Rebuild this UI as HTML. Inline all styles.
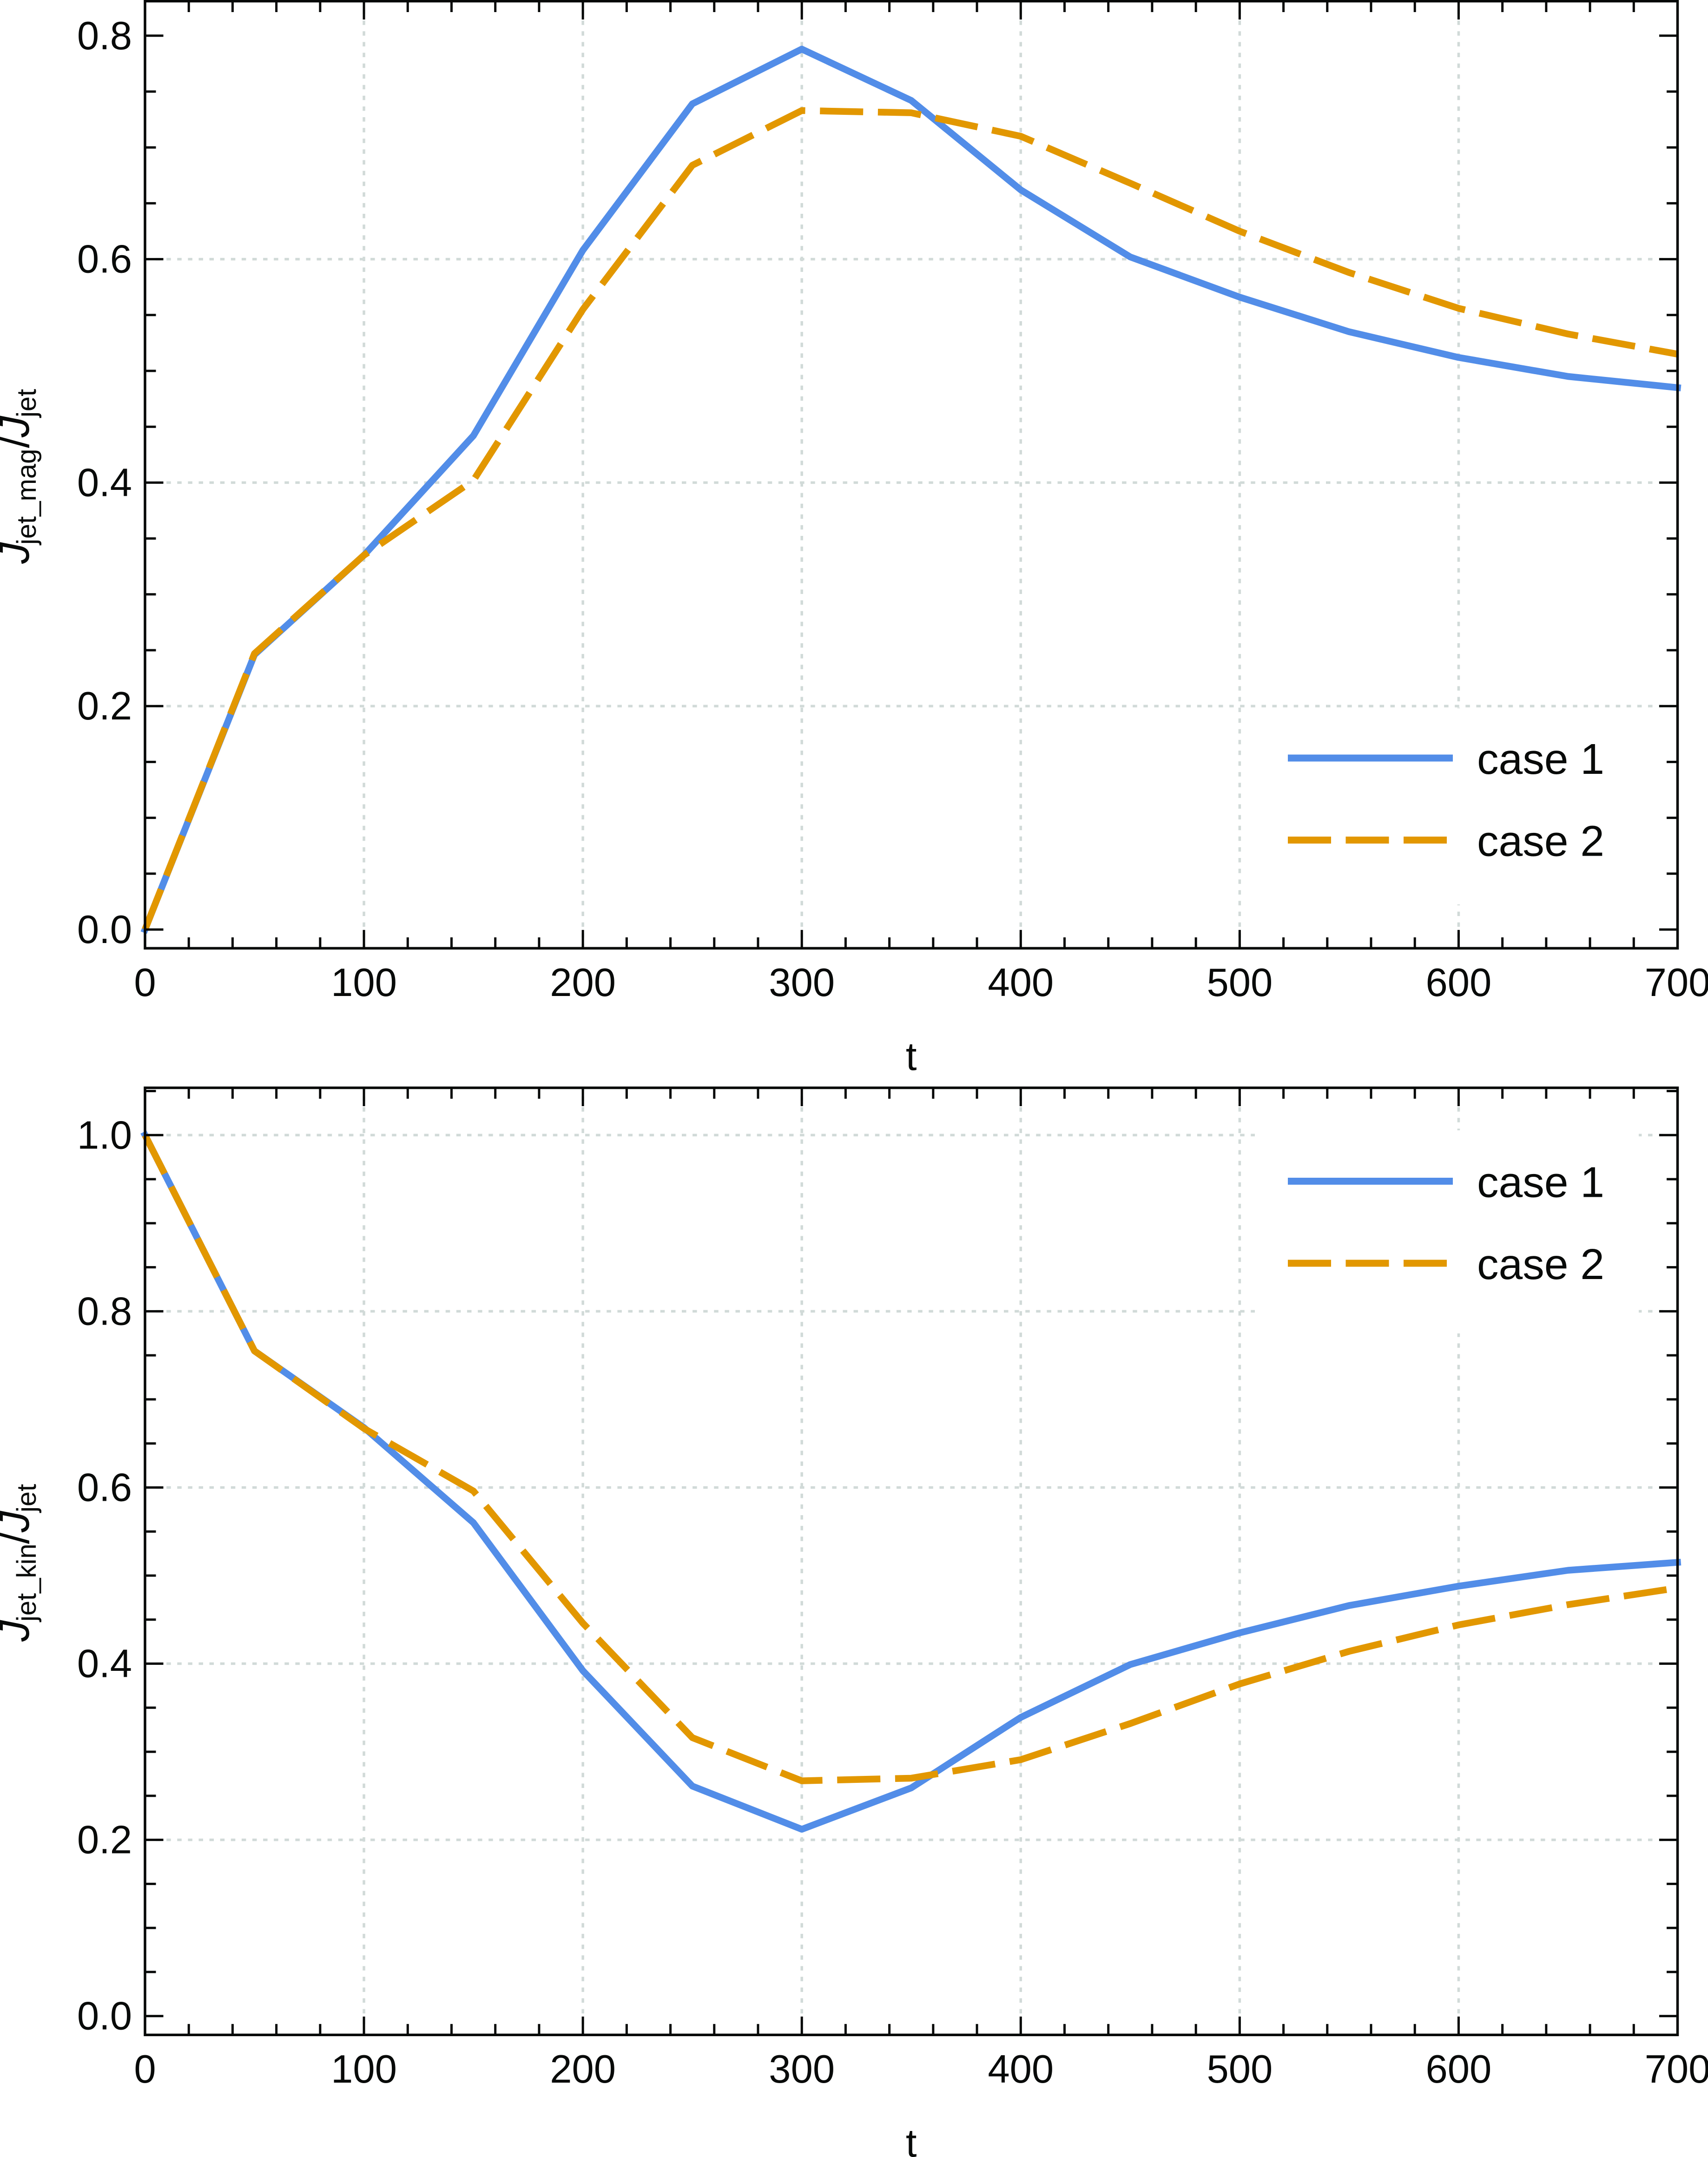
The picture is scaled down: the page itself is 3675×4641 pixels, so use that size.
<!DOCTYPE html>
<html lang="en">
<head>
<meta charset="utf-8">
<title>Jet angular momentum fractions versus time</title>
<style>
html,body{margin:0;padding:0;background:#fff;}
body{width:3675px;height:4641px;overflow:hidden;}
svg{display:block;}
text{font-family:"Liberation Sans",Arial,sans-serif;fill:#080a09;}
</style>
</head>
<body>
<svg id="figure" xmlns="http://www.w3.org/2000/svg" width="3675" height="4641" viewBox="0 0 3675 4641"></svg>
<script>
const times = [0, 50, 100, 150, 200, 250, 300, 350, 400, 450, 500, 550, 600, 650, 700];
const magCase1 = [0, 0.246, 0.335, 0.442, 0.608, 0.739, 0.788, 0.742, 0.662, 0.602, 0.566, 0.535, 0.512, 0.495, 0.485];
const magCase2 = [0, 0.247, 0.335, 0.402, 0.555, 0.684, 0.733, 0.731, 0.71, 0.668, 0.625, 0.588, 0.556, 0.533, 0.515];
const kinCase1 = [1, 0.755, 0.668, 0.56, 0.392, 0.261, 0.212, 0.259, 0.339, 0.399, 0.435, 0.466, 0.488, 0.506, 0.515];
const kinCase2 = [1, 0.755, 0.667, 0.596, 0.446, 0.316, 0.267, 0.27, 0.291, 0.332, 0.377, 0.414, 0.444, 0.467, 0.486];
const xTickLabels = ['0', '100', '200', '300', '400', '500', '600', '700'];
const magTickLabels = ['0.0', '0.2', '0.4', '0.6', '0.8'];
const kinTickLabels = ['0.0', '0.2', '0.4', '0.6', '0.8', '1.0'];
const magGridValues = [0.2, 0.4, 0.6];
const kinGridValues = [0.2, 0.4, 0.6, 0.8, 1.0];
const seriesNames = ['case 1', 'case 2'];

const BLUE = '#528de8';
const ORANGE = '#e29700';
const BLACK = '#060807';
const GRID = '#d1dad8';
const SVGNS = 'http://www.w3.org/2000/svg';
const root = document.getElementById('figure');

const LEFT = 312, RIGHT = 3609.5;
const xPos = t => LEFT + t * (RIGHT - LEFT) / 700;

function make(parent, tag, attrs, content) {
  const el = document.createElementNS(SVGNS, tag);
  for (const k in attrs) el.setAttribute(k, attrs[k]);
  if (content !== undefined) el.textContent = content;
  parent.appendChild(el);
  return el;
}

function drawPanel(cfg) {
  const yPos = cfg.yPos;
  const panel = make(root, 'g', {});
  
  

  // grid
  const grid = make(panel, 'g', {fill: 'none', stroke: GRID, 'stroke-width': 5.5, 'stroke-dasharray': '9.5 13.6'});
  
  
  xTickLabels.slice(1, -1).forEach(label => {
    const x = xPos(parseFloat(label));
    const v = make(grid, 'line', {x1: x, x2: x, y1: cfg.bottom, y2: cfg.top});
    
    
  });
  cfg.gridValues.forEach(value => {
    const y = yPos(value);
    const h = make(grid, 'line', {x1: LEFT, x2: RIGHT, y1: y, y2: y});
    
    
  });

  // series
  const pathFor = vals => vals.map((v, i) => (i ? 'L' : 'M') + xPos(times[i]).toFixed(2) + ' ' + yPos(v).toFixed(2)).join(' ');
  const s1 = make(panel, 'path', {d: pathFor(cfg.series1), fill: 'none', stroke: BLUE, 'stroke-width': 14.5, 'stroke-linejoin': 'round', 'stroke-linecap': 'square'});
  
  
  const s2 = make(panel, 'path', {d: pathFor(cfg.series2), fill: 'none', stroke: ORANGE, 'stroke-width': 14.5, 'stroke-linejoin': 'round', 'stroke-dasharray': '93 31.7'});
  
  

  // legend
  const legend = make(panel, 'g', {});
  
  
  const box = make(legend, 'rect', {x: 2700, y: cfg.legendBoxTop, width: 826, height: cfg.legendBoxBottom - cfg.legendBoxTop, fill: '#fff'});
  
  
  const l1 = make(legend, 'line', {x1: 2771, x2: 3126, y1: cfg.legendY1, y2: cfg.legendY1, stroke: BLUE, 'stroke-width': 15});
  
  
  const t1 = make(legend, 'text', {x: 3178, y: cfg.legendY1 + 34, 'font-size': 93}, seriesNames[0]);
  
  
  const l2 = make(legend, 'line', {x1: 2771, x2: 3113, y1: cfg.legendY2, y2: cfg.legendY2, stroke: ORANGE, 'stroke-width': 15, 'stroke-dasharray': '93 31.5'});
  
  
  const t2 = make(legend, 'text', {x: 3178, y: cfg.legendY2 + 34, 'font-size': 93}, seriesNames[1]);
  
  

  // ticks
  const ticks = make(panel, 'g', {stroke: BLACK, 'stroke-width': 5, fill: 'none'});
  
  
  const xMax = parseFloat(xTickLabels[xTickLabels.length - 1]);
  for (let i = 0; i <= xMax / 20; i++) {
    const t = i * 20;
    const x = xPos(t);
    const len = t % 100 === 0 ? 39.5 : 23.5;
    const b = make(ticks, 'line', {x1: x, x2: x, y1: cfg.bottom, y2: cfg.bottom - len});
    
    
    const tp = make(ticks, 'line', {x1: x, x2: x, y1: cfg.top, y2: cfg.top + len});
    
    
  }
  for (let i = 0; i <= cfg.yMinorCount; i++) {
    const v = i * 0.05;
    const y = yPos(v);
    const len = i % 4 === 0 ? 39.5 : 23.5;
    const a = make(ticks, 'line', {x1: LEFT, x2: LEFT + len, y1: y, y2: y});
    
    
    const c = make(ticks, 'line', {x1: RIGHT, x2: RIGHT - len, y1: y, y2: y});
    
    
  }

  // frame
  const frame = make(panel, 'rect', {x: LEFT, y: cfg.top, width: RIGHT - LEFT, height: cfg.bottom - cfg.top, fill: 'none', stroke: BLACK, 'stroke-width': 5.5});
  
  

  // tick labels
  xTickLabels.forEach(label => {
    const tl = make(panel, 'text', {x: xPos(parseFloat(label)), y: cfg.bottom + 102.5, 'font-size': 85, 'text-anchor': 'middle'}, label);
    
    
  });
  cfg.tickLabels.forEach(label => {
    const tl = make(panel, 'text', {x: 284, y: yPos(parseFloat(label)) + 29, 'font-size': 85, 'text-anchor': 'end'}, label);
    
    
  });

  // x title
  const xt = make(panel, 'text', {x: 1960.7, y: cfg.bottom + 262, 'font-size': 85, 'text-anchor': 'middle'}, 't');
  
  

  // y title pieces
  const yt = make(panel, 'g', {});
  
  
  const piece = (x, y, size, italic, str) => make(yt, 'text', {transform: 'translate(' + x + ' ' + y + ') rotate(-90)', 'font-size': size, 'font-style': italic ? 'italic' : 'normal'}, str);
  piece(62, cfg.ylab[0], 92, true, 'J');
  piece(77, cfg.ylab[1], 58, false, cfg.subscript);
  piece(62, cfg.ylab[2], 92, false, '/');
  piece(62, cfg.ylab[3], 92, true, 'J');
  piece(77, cfg.ylab[4], 58, false, 'jet');
}

drawPanel({
  name: 'magnetic-fraction',
  top: 2.5, bottom: 2040.3,
  yPos: v => 2000 - 2404 * v,
  gridValues: magGridValues,
  tickLabels: magTickLabels,
  series1: magCase1, series2: magCase2,
  yMinorCount: 16,
  legendBoxTop: 1524, legendBoxBottom: 1946,
  legendY1: 1631, legendY2: 1807.5,
  subscript: 'jet_mag',
  ylab: [1213, 1172, 964, 941, 898]
});

drawPanel({
  name: 'kinetic-fraction',
  top: 2340.5, bottom: 4378.3,
  yPos: v => 4337.7 - 1895.4 * v,
  gridValues: kinGridValues,
  tickLabels: kinTickLabels,
  series1: kinCase1, series2: kinCase2,
  yMinorCount: 21,
  legendBoxTop: 2432, legendBoxBottom: 2869,
  legendY1: 2541.5, legendY2: 2718,
  subscript: 'jet_kin',
  ylab: [3532, 3489, 3322, 3297, 3254]
});
</script>
</body>
</html>
